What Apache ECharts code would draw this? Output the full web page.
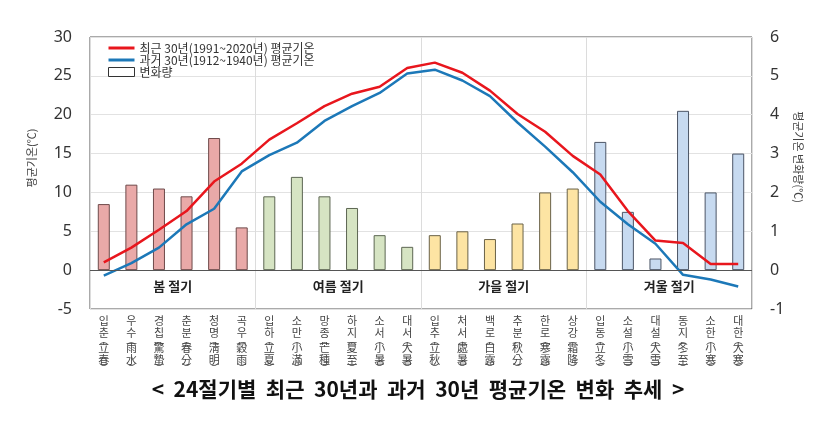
<!DOCTYPE html>
<html>
<head>
<meta charset="utf-8">
<script src="https://cdn.jsdelivr.net/npm/echarts@6/dist/echarts.min.js"></script>
<style>
  html, body { margin: 0; padding: 0; background: #fff; }
  #main { width: 836px; height: 422px; }
</style>
</head>
<body>
<div id="main"></div>
<script>
// 24절기 이름 (한글 / 한자)
var terms = ['입춘','우수','경칩','춘분','청명','곡우','입하','소만','망종','하지','소서','대서',
             '입추','처서','백로','추분','한로','상강','입동','소설','대설','동지','소한','대한'];
var hanja = ['立春','雨水','驚蟄','春分','淸明','穀雨','立夏','小滿','芒種','夏至','小暑','大暑',
             '立秋','處暑','白露','秋分','寒露','霜降','立冬','小雪','大雪','冬至','小寒','大寒'];

// 최근 30년 (1991~2020) 평균기온
var recent = [1.0, 2.9, 5.2, 7.6, 11.4, 13.7, 16.8, 18.9, 21.1, 22.7, 23.6, 26.0,
              26.7, 25.4, 23.1, 20.1, 17.8, 14.7, 12.3, 7.6, 3.8, 3.5, 0.8, 0.8];
// 과거 30년 (1912~1940) 평균기온
var past = [-0.7, 0.9, 2.9, 5.9, 7.9, 12.7, 14.8, 16.4, 19.2, 21.1, 22.8, 25.3,
            25.8, 24.4, 22.4, 19.0, 15.9, 12.6, 8.8, 5.9, 3.4, -0.6, -1.2, -2.1];
// 변화량
var change = [1.7, 2.2, 2.1, 1.9, 3.4, 1.1, 1.9, 2.4, 1.9, 1.6, 0.9, 0.6,
              0.9, 1.0, 0.8, 1.2, 2.0, 2.1, 3.3, 1.5, 0.3, 4.1, 2.0, 3.0];

var seasons = ['봄 절기', '여름 절기', '가을 절기', '겨울 절기'];
var seasonFill = ['#e9a9a8', '#d6e4c3', '#fde4a3', '#c7daf0'];
var seasonLine = ['#6e4a4a', '#5c6652', '#6a6248', '#4c5566'];

var leftTicks = { min: -5, max: 30, interval: 5 };
var rightTicks = { min: -1, max: 6, interval: 1 };

var font = 'Noto Sans, Noto Sans CJK KR, sans-serif';
// 범례용 굵은 선 아이콘 (상하 여백 포함)
var lineIcon = 'path://M0,0L0,0M0,3L26,3L26,6L0,6ZM26,9L26,9';

var barData = change.map(function (v, i) {
    var s = Math.floor(i / 6);
    return { value: v, itemStyle: { color: seasonFill[s], borderColor: seasonLine[s], borderWidth: 1 } };
});

var chart = echarts.init(document.getElementById('main'));

var option = {
    animation: false,
    backgroundColor: '#fff',
    textStyle: { fontFamily: font },
    title: {
        text: '<  24절기별  최근  30년과  과거  30년  평균기온  변화  추세  >',
        left: 'center',
        top: 374,
        textStyle: { fontSize: 21, fontWeight: 'bold', color: '#111', fontFamily: 'Noto Sans CJK KR' }
    },
    legend: {
        orient: 'vertical',
        left: 103,
        top: 37,
        itemWidth: 26,
        itemHeight: 9,
        itemGap: 0,
        textStyle: { fontSize: 12, lineHeight: 12, color: '#333', fontFamily: 'Noto Sans CJK KR' },
        data: [
            { name: '최근 30년(1991~2020년) 평균기온', icon: lineIcon },
            { name: '과거 30년(1912~1940년) 평균기온', icon: lineIcon },
            { name: '변화량', icon: 'rect', itemStyle: { color: '#fff', borderColor: '#333', borderWidth: 1 } }
        ]
    },
    grid: {
        left: 90, right: 84, top: 37, bottom: 113,
        show: true, borderColor: '#555', borderWidth: 1
    },
    xAxis: {
        type: 'category',
        data: terms,
        axisLine: { show: false },
        axisTick: { show: false },
        splitLine: {
            show: true,
            interval: function (index) { return index % 6 === 0; },
            lineStyle: { color: '#dcdcdc', width: 1 }
        },
        axisLabel: {
            interval: 0,
            margin: 6,
            formatter: function (v, i) {
                var h = hanja[i];
                return '{k|' + v.charAt(0) + '}\n{k|' + v.charAt(1) + '}\n{p|︵}\n{k|' + h.charAt(0) + '}\n{k|' + h.charAt(1) + '}\n{p|︶}';
            },
            rich: {
                k: { fontSize: 11, lineHeight: 12, color: '#444', fontFamily: 'Noto Sans CJK KR' },
                p: { fontSize: 9, lineHeight: 3, color: '#444', fontFamily: 'Noto Sans CJK KR' }
            }
        }
    },
    yAxis: [
        {
            type: 'value',
            min: leftTicks.min, max: leftTicks.max, interval: leftTicks.interval,
            axisLine: { show: false },
            axisTick: { show: false },
            axisLabel: { fontSize: 16, color: '#333', margin: 18 },
            splitLine: { lineStyle: { color: '#e2e2e2', width: 1 } }
        },
        {
            type: 'value',
            min: rightTicks.min, max: rightTicks.max, interval: rightTicks.interval,
            axisLine: { show: false },
            axisTick: { show: false },
            axisLabel: { fontSize: 16, color: '#333', margin: 18 },
            splitLine: { show: false }
        }
    ],
    series: [
        {
            name: '변화량',
            type: 'bar',
            yAxisIndex: 1,
            barWidth: 12,
            data: barData,
            z: 2,
            markLine: {
                silent: true,
                symbol: 'none',
                label: { show: false },
                lineStyle: { color: '#555', width: 1, type: 'solid' },
                data: [{ yAxis: 0 }]
            }
        },
        {
            name: '최근 30년(1991~2020년) 평균기온',
            type: 'line',
            yAxisIndex: 0,
            data: recent,
            symbol: 'none',
            z: 4,
            itemStyle: { color: '#e8161d' },
            lineStyle: { color: '#e8161d', width: 2.5 }
        },
        {
            name: '과거 30년(1912~1940년) 평균기온',
            type: 'line',
            yAxisIndex: 0,
            data: past,
            symbol: 'none',
            z: 3,
            itemStyle: { color: '#1c78b8' },
            lineStyle: { color: '#1c78b8', width: 2.5 }
        }
    ]
};

chart.setOption(option);

// 계절 라벨, 축 이름 (축 좌표로 위치 계산)
var graphics = [];
seasons.forEach(function (s, k) {
    var a = chart.convertToPixel({ xAxisIndex: 0 }, terms[k * 6 + 2]);
    var b = chart.convertToPixel({ xAxisIndex: 0 }, terms[k * 6 + 3]);
    var y = chart.convertToPixel({ yAxisIndex: 0 }, -2);
    graphics.push({
        type: 'text', x: (a + b) / 2, y: y,
        style: { text: s, fontSize: 13, fontWeight: 'bold', fill: '#222', align: 'center', verticalAlign: 'middle', fontFamily: 'Noto Sans CJK KR' }
    });
});
graphics.push({
    type: 'text', x: 32, y: 158, rotation: Math.PI / 2,
    style: { text: '평균기온(℃)', fontSize: 11, fill: '#444', align: 'center', verticalAlign: 'middle', fontFamily: 'Noto Sans CJK KR' }
});
graphics.push({
    type: 'text', x: 798, y: 157, rotation: -Math.PI / 2,
    style: { text: '평균기온 변화량(℃)', fontSize: 11, fill: '#444', align: 'center', verticalAlign: 'middle', fontFamily: 'Noto Sans CJK KR' }
});
chart.setOption({ graphic: graphics });
</script>
</body>
</html>
